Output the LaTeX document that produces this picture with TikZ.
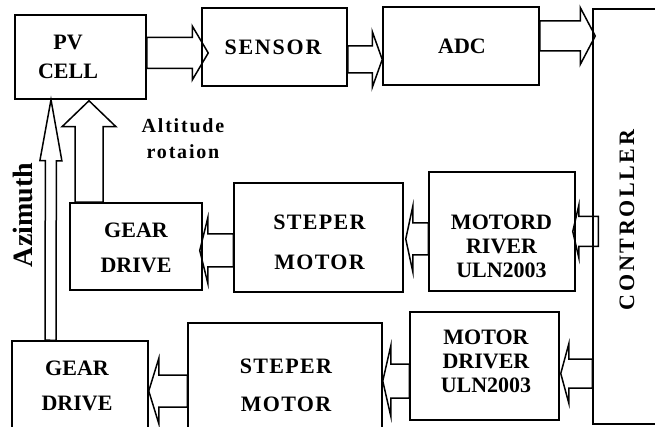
\documentclass[tikz,border=0pt]{standalone}
\usepackage{fontspec}
\setmainfont{Liberation Serif}
\usetikzlibrary{calc}
\tikzset{
  box/.style={draw, line width=1.5pt, rectangle, inner sep=0pt},
  txt/.style={font=\bfseries\fontsize{22}{24}\selectfont, align=center, inner sep=0pt},
  conn/.style={draw, line width=1.5pt, line join=miter},
}
\newcommand\barrow[5]{%
  \coordinate (ba) at (#1);
  \coordinate (bt) at (#2);
  \coordinate (bh) at ($(bt)!#5!(ba)$);
  \draw[conn] ($(ba)!#3!90:(bt)$) -- ($(bh)!#3!90:(bt)$) -- ($(bh)!#4!90:(bt)$) -- (bt)
    -- ($(bh)!#4!-90:(bt)$) -- ($(bh)!#3!-90:(bt)$) -- ($(ba)!#3!-90:(bt)$) -- cycle;}
\newcommand\lspc[1]{\addfontfeature{LetterSpace=#1}}
\begin{document}
\begin{tikzpicture}[x=1pt,y=-1pt]
\useasboundingbox (0,0) rectangle (655,427);
\clip (0,0) rectangle (655,427);
% boxes
\node[box, minimum width=131pt, minimum height=84pt] (pv) at (80.5,57) {};
\node[box, minimum width=145pt, minimum height=78pt] (sensor) at (274.5,47) {};
\node[box, minimum width=156pt, minimum height=78pt] (adc) at (461,46) {};
\node[box, minimum width=97pt, minimum height=415pt] (ctrl) at (641.5,216.5) {};
\node[box, minimum width=132pt, minimum height=87pt] (gear1) at (136,246.5) {};
\node[box, minimum width=169pt, minimum height=109pt] (step1) at (318.5,237.5) {};
\node[box, minimum width=146pt, minimum height=119pt] (drv1) at (502,231.5) {};
\node[box, minimum width=136pt, minimum height=119pt] (gear2) at (80,400.5) {};
\node[box, minimum width=194pt, minimum height=137pt] (step2) at (285,391.5) {};
\node[box, minimum width=149pt, minimum height=108pt] (drv2) at (484.5,366) {};
% texts
\node[txt] (pvt) at (68,57) {PV\\[5pt]CELL};
\node[txt] (sensort) at (273,47.5) {\lspc{8}SENSOR};
\node[txt] (adct) at (462,46) {ADC};
\node[txt, rotate=90] (ctrlt) at (627,220) {\lspc{12}CONTROLLER};
\node[txt] (gear1t) at (136,247.5) {GEAR\\[11pt]DRIVE};
\node[txt] (step1t) at (319.5,242.5) {\lspc{6}STEPER\\[16pt]\lspc{6}MOTOR};
\node[txt] (drv1t) at (501.5,246) {MOTORD\\RIVER\\ULN2003};
\node[txt] (gear2t) at (77,386) {GEAR\\[11pt]DRIVE};
\node[txt] (step2t) at (286,385.5) {\lspc{6}STEPER\\[14pt]\lspc{6}MOTOR};
\node[txt] (drv2t) at (486,361) {MOTOR\\DRIVER\\ULN2003};
\node[txt, font=\bfseries\fontsize{20}{26}\selectfont] (alt) at (183,139) {\lspc{9}Altitude\\\lspc{9}rotaion};
\node[txt, font=\bfseries\fontsize{28}{30}\selectfont, rotate=90] (azi) at (23,215) {Azimuth};
% arrows
\barrow{$(pv.east)+(0,-4)$}{$(sensor.west)+(7,6)$}{15.5pt}{27pt}{16pt}
\barrow{$(sensor.east)+(0,12.5)$}{$(adc.west)+(0,13.5)$}{13.5pt}{28pt}{10pt}
\barrow{$(adc.east)+(0,-10)$}{$(ctrl.west |- adc.east)+(3,-10)$}{15pt}{28.5pt}{15pt}
\barrow{$(ctrl.west |- drv1.east)+(6,0)$}{$(drv1.east)+(-3,0)$}{15pt}{26pt}{6pt}
\barrow{$(drv1.west)+(0,7.5)$}{$(step1.east)+(2,1.5)$}{16pt}{32.5pt}{7pt}
\barrow{$(step1.west)+(0,13)$}{$(gear1.east)+(-3,4)$}{16.5pt}{32.5pt}{8pt}
\barrow{$(ctrl.west |- drv2.east)+(0,7.5)$}{$(drv2.east)+(1,7.5)$}{14.5pt}{29.5pt}{8pt}
\barrow{$(drv2.west)+(0,15)$}{$(step2.east)+(0,-10.5)$}{17pt}{35pt}{8pt}
\barrow{$(step2.west)+(0,-0.5)$}{$(gear2.east)+(0,-9.5)$}{16pt}{32.5pt}{10pt}
\barrow{$(gear1.north)+(-47,0)$}{$(pv.south)+(8.5,1)$}{14pt}{27pt}{26pt}
\barrow{$(gear2.north)+(-29.5,0)$}{$(pv.south)+(-29.5,0)$}{5.5pt}{11pt}{61pt}
\end{tikzpicture}
\end{document}
